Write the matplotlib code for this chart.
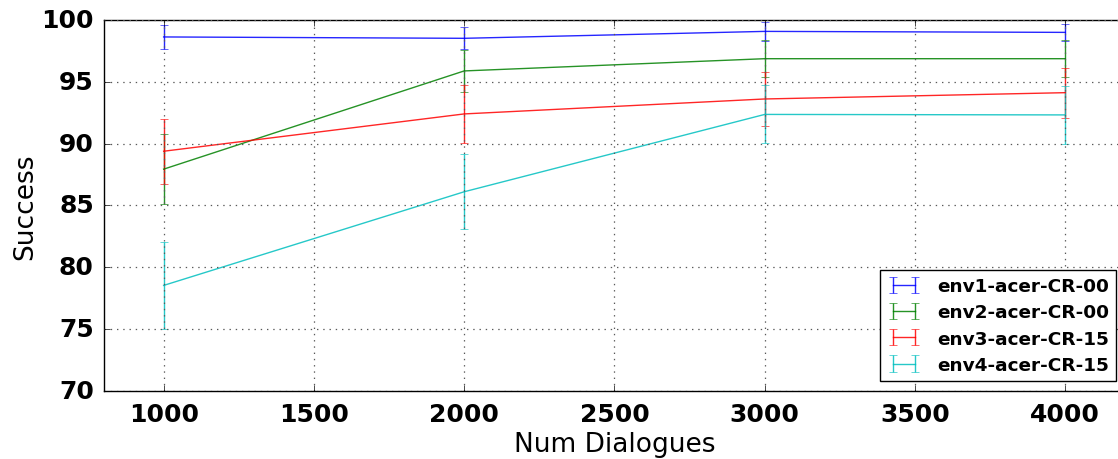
import numpy as np
import matplotlib
matplotlib.use("Agg")
from matplotlib import pyplot as plt
from matplotlib.container import ErrorbarContainer
from matplotlib.legend_handler import HandlerErrorbar

plt.style.use("classic")

num_dialogues = [1000, 2000, 3000, 4000]

labels = ["env1-acer-CR-00", "env2-acer-CR-00", "env3-acer-CR-15", "env4-acer-CR-15"]
colors = ["b", "g", "r", "c"]

success = [
    [98.63, 98.52, 99.08, 99.00],
    [87.93, 95.88, 96.87, 96.87],
    [89.38, 92.40, 93.61, 94.12],
    [78.52, 86.10, 92.36, 92.32],
]
success_err = [
    [0.98, 0.90, 0.80, 0.68],
    [2.83, 1.68, 1.48, 1.50],
    [2.63, 2.32, 2.20, 2.02],
    [3.50, 3.02, 2.35, 2.32],
]

fig = plt.figure(figsize=(11.18, 4.6), dpi=100, facecolor="white")
ax = fig.add_axes([0.0926, 0.1485, 0.914, 0.8058])

for y, e, c, lab in zip(success, success_err, colors, labels):
    ax.errorbar(num_dialogues, y, yerr=e, color=c, label=lab,
                linewidth=1.0, elinewidth=1.0, capsize=3, alpha=0.85)

ax.set_xlim(800, 4200)
ax.set_ylim(70, 100)
ax.set_xticks([1000, 1500, 2000, 2500, 3000, 3500, 4000])
ax.set_yticks([70, 75, 80, 85, 90, 95, 100])
ax.grid(True, color="0.35", linewidth=0.9, dashes=(1, 3.5))

for t in ax.get_xticklabels() + ax.get_yticklabels():
    t.set_fontsize(18)
    t.set_fontweight("bold")
ax.tick_params(axis="x", pad=8)
ax.tick_params(axis="y", pad=7)

ax.set_xlabel("Num Dialogues", fontsize=19, labelpad=4)
ax.set_ylabel("Success", fontsize=19, labelpad=2)

# taller error bars in the legend keys
leg = ax.legend(loc="lower right", prop={"size": 13.3, "weight": "bold"},
                numpoints=2, handlelength=1.75, handletextpad=0.9,
                borderaxespad=0.5, labelspacing=0.45,
                handler_map={ErrorbarContainer: HandlerErrorbar(yerr_size=0.44)})

plt.savefig("out.png", dpi=100, facecolor="white")
